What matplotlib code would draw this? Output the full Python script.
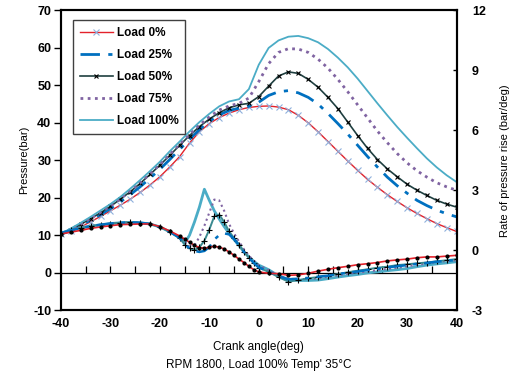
"""Cylinder pressure and rate of pressure rise vs crank angle"""

import matplotlib

matplotlib.use("Agg")
import matplotlib.pyplot as plt
import numpy as np

plt.rcParams["font.family"] = ["Liberation Sans", "DejaVu Sans"]
plt.rcParams["axes.unicode_minus"] = False

# crank angle grid for the pressure traces (deg)
angle_p = np.arange(-40, 41, 2)

pressure_0 = [10.2, 11.0, 12.2, 13.6, 15.0, 16.5, 18.0, 19.6, 21.4, 23.4, 25.6,
              28.2, 31.0, 34.6, 37.6, 39.8, 41.4, 42.6, 43.5, 44.1, 44.4, 44.5,
              44.2, 43.5, 42.0, 40.0, 37.6, 35.0, 32.4, 29.8, 27.3, 24.9, 22.8,
              20.8, 19.0, 17.3, 15.8, 14.4, 13.1, 12.0, 11.0]
pressure_25 = [10.2, 11.3, 12.6, 14.0, 15.5, 17.1, 18.9, 20.8, 22.9, 25.2, 27.6,
               30.2, 32.9, 35.6, 38.2, 40.4, 42.1, 43.3, 43.9, 44.4, 45.5, 47.3,
               48.3, 48.6, 48.0, 46.8, 45.0, 42.5, 39.8, 37.0, 34.0, 31.0, 28.2,
               25.5, 23.2, 21.2, 19.3, 17.9, 16.7, 15.7, 14.9]
pressure_50 = [10.3, 11.5, 12.9, 14.4, 16.0, 17.7, 19.6, 21.6, 23.8, 26.2, 28.7,
               31.3, 34.0, 36.6, 39.0, 41.0, 42.7, 44.0, 44.8, 45.2, 47.0, 49.8,
               52.5, 53.6, 53.2, 51.6, 49.5, 46.8, 43.8, 40.2, 36.6, 33.2, 30.2,
               27.7, 25.6, 23.6, 22.0, 20.6, 19.3, 18.3, 17.5]
pressure_75 = [10.3, 11.6, 13.0, 14.5, 16.1, 17.8, 19.7, 21.8, 24.0, 26.4, 28.9,
               31.6, 34.3, 36.9, 39.4, 41.6, 43.4, 44.5, 45.2, 46.6, 51.0, 55.8,
               58.8, 59.8, 59.7, 58.8, 57.0, 54.6, 51.6, 48.3, 44.8, 41.3, 37.8,
               34.7, 31.8, 29.3, 27.2, 25.5, 24.0, 22.9, 22.0]
pressure_100 = [10.4, 11.8, 13.3, 14.9, 16.6, 18.3, 20.2, 22.4, 24.7, 27.1, 29.6,
                32.4, 35.0, 37.7, 40.2, 42.4, 44.4, 45.7, 46.3, 49.0, 55.5, 60.0,
                62.0, 63.0, 63.2, 62.6, 61.5, 59.7, 57.4, 54.8, 51.8, 48.5, 45.2,
                42.0, 38.9, 36.0, 33.2, 30.5, 28.1, 26.0, 24.2]

# crank angle grid for the rate traces (finer around combustion)
angle_r = np.concatenate([np.arange(-40, -15, 2), np.arange(-15, 1, 1),
                          np.arange(2, 41, 2)])

rate_0 = [0.81, 0.90, 0.99, 1.09, 1.16, 1.22, 1.28, 1.29, 1.31, 1.31, 1.18, 0.96,
          0.71, 0.56, 0.39, 0.24, 0.13, 0.09, 0.15, 0.19, 0.15, 0.06, -0.09,
          -0.26, -0.45, -0.62, -0.81, -0.98, -1.09, -1.16, -1.18, -1.26, -1.24,
          -1.16, -1.05, -0.96, -0.88, -0.81, -0.73, -0.68, -0.62, -0.54, -0.49,
          -0.45, -0.38, -0.34, -0.34, -0.30, -0.26]
rate_25 = [0.86, 0.99, 1.11, 1.20, 1.27, 1.33, 1.37, 1.39, 1.37, 1.31, 1.16, 0.92,
           0.62, 0.30, 0.09, -0.04, -0.09, -0.04, 0.15, 0.53, 0.75, 0.84, 0.79,
           0.56, 0.24, -0.09, -0.38, -0.64, -0.86, -1.07, -1.31, -1.46, -1.43,
           -1.39, -1.33, -1.28, -1.20, -1.13, -1.07, -1.00, -0.94, -0.86, -0.81,
           -0.75, -0.69, -0.64, -0.58, -0.54, -0.49]
rate_50 = [0.86, 0.99, 1.11, 1.20, 1.27, 1.33, 1.37, 1.39, 1.37, 1.31, 1.16, 0.92,
           0.62, 0.28, 0.09, 0.00, 0.15, 0.47, 1.03, 1.69, 1.78, 1.41, 0.94,
           0.60, 0.28, -0.08, -0.38, -0.66, -0.88, -1.09, -1.35, -1.58, -1.50,
           -1.41, -1.35, -1.29, -1.20, -1.11, -1.03, -0.96, -0.88, -0.83, -0.75,
           -0.71, -0.66, -0.62, -0.56, -0.51, -0.45]
rate_75 = [0.86, 0.99, 1.11, 1.20, 1.27, 1.33, 1.37, 1.39, 1.37, 1.31, 1.16, 0.92,
           0.62, 0.38, 0.23, 0.24, 0.66, 1.22, 1.88, 2.53, 2.49, 1.97, 1.31,
           0.84, 0.43, 0.04, -0.28, -0.53, -0.75, -1.01, -1.28, -1.43, -1.46,
           -1.44, -1.41, -1.33, -1.26, -1.18, -1.13, -1.07, -1.00, -0.94, -0.88,
           -0.81, -0.73, -0.66, -0.60, -0.54, -0.51]
rate_100 = [0.86, 0.99, 1.11, 1.20, 1.27, 1.33, 1.37, 1.39, 1.37, 1.31, 1.16, 0.92,
            0.62, 0.34, 0.75, 1.41, 2.16, 3.05, 2.49, 1.97, 1.56, 1.18, 0.84,
            0.53, 0.23, -0.08, -0.34, -0.56, -0.75, -0.98, -1.29, -1.46, -1.52,
            -1.52, -1.50, -1.43, -1.35, -1.28, -1.22, -1.14, -1.09, -1.03, -0.98,
            -0.92, -0.83, -0.75, -0.69, -0.64, -0.58]

labels = ["Load 0%", "Load 25%", "Load 50%", "Load 75%", "Load 100%"]

RED = "#e3222b"
BLUE = "#0070c0"
TEAL = "#3a8a90"
PURPLE = "#8064a2"
CYAN = "#4bacc6"


def _style_ticks(ax):
    for lab in ax.get_xticklabels() + ax.get_yticklabels():
        lab.set_fontweight("bold")


def main():
    fig = plt.figure(figsize=(5.17, 3.74), dpi=100)
    ax = fig.add_axes([0.118, 0.171, 0.765, 0.801])
    ax2 = ax.twinx()

    # pressure traces (left axis)
    h0, = ax.plot(angle_p, pressure_0, color=RED, lw=1.0, marker="x", ms=4,
                  mec="#8fb0dc", mew=0.8)
    h1, = ax.plot(angle_p, pressure_25, color=BLUE, lw=2.0, dashes=(7, 3, 1.5, 3))
    h2, = ax.plot(angle_p, pressure_50, color="#1f3f40", lw=1.2, marker="x",
                  ms=3.5, mec="black", mew=0.8)
    h3, = ax.plot(angle_p, pressure_75, color=PURPLE, lw=2.0, ls=(0, (1, 1.6)))
    h4, = ax.plot(angle_p, pressure_100, color=CYAN, lw=1.3)

    # rate of pressure rise (right axis)
    ax2.plot(angle_r, rate_100, color=CYAN, lw=2.0)
    ax2.plot(angle_r, rate_75, color=PURPLE, lw=1.5, ls=(0, (1, 1.6)))
    ax2.plot(angle_r, rate_50, color=TEAL, lw=1.4, marker="+", ms=4,
             mec="black", mew=0.8)
    ax2.plot(angle_r, rate_25, color=BLUE, lw=1.8, dashes=(7, 3, 1.5, 3))
    ax2.plot(angle_r, rate_0, color=RED, lw=1.2, marker="o", ms=2,
             mfc="black", mec="black")

    ax.set_xlim(-40, 40)
    ax.set_ylim(-10, 70)
    ax2.set_ylim(-3, 12)
    ax.set_xticks(np.arange(-40, 41, 10))
    ax.set_yticks(np.arange(-10, 71, 10))
    ax2.set_yticks(np.arange(-3, 13, 3))

    # zero line with small upward ticks
    ax.axhline(0, color="black", lw=0.9, zorder=1)
    zero_ticks = np.arange(-35, 36, 5)
    ax.plot(zero_ticks, np.zeros_like(zero_ticks), ls="none", marker=2, ms=5,
            mew=0.9, color="black", zorder=1)

    ax.tick_params(axis="x", length=0, pad=6, labelsize=9)
    ax.tick_params(axis="y", direction="out", length=5, width=1, pad=2,
                   labelsize=9)
    ax2.tick_params(axis="y", direction="in", length=3, width=1, pad=11,
                    labelsize=9)
    _style_ticks(ax)
    _style_ticks(ax2)

    for a in (ax, ax2):
        for s in a.spines.values():
            s.set_linewidth(1.5)

    ax.set_ylabel("Pressure(bar)", fontsize=8, labelpad=3)
    ax2.set_ylabel("Rate of pressure rise (bar/deg)", fontsize=8, labelpad=10)
    ax.set_xlabel("Crank angle(deg)", fontsize=8.5, labelpad=8)
    fig.text(0.5, 0.025, "RPM 1800, Load 100% Temp' 35\u00b0C", ha="center",
             va="center", fontsize=8.5)

    leg = ax.legend([h0, h1, h2, h3, h4], labels, loc="upper left",
                    bbox_to_anchor=(0.015, 0.988), fontsize=8.5,
                    handlelength=2.8, labelspacing=0.85, borderpad=0.6,
                    handletextpad=0.3, fancybox=False, framealpha=1,
                    edgecolor="#404040")
    leg.get_frame().set_linewidth(1.0)
    for t in leg.get_texts():
        t.set_fontweight("bold")

    fig.savefig("out.png", dpi=100)


if __name__ == "__main__":
    main()
